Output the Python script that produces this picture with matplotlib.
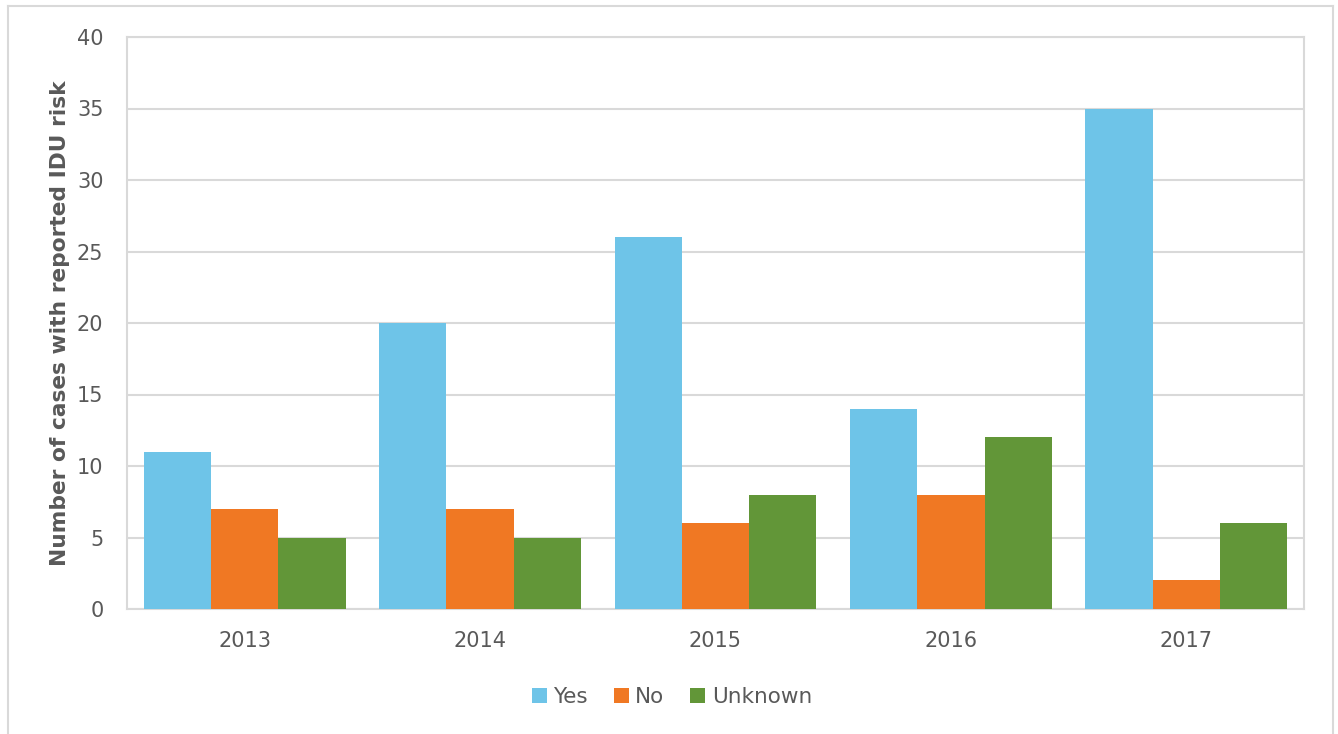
import matplotlib
matplotlib.use("Agg")
import matplotlib.pyplot as plt
import numpy as np
from matplotlib.lines import Line2D

years = ["2013", "2014", "2015", "2016", "2017"]
yes = [11, 20, 26, 14, 35]
no = [7, 7, 6, 8, 2]
unknown = [5, 5, 8, 12, 6]
series_names = ["Yes", "No", "Unknown"]
colors = ["#6EC4E8", "#F07823", "#629638"]

W, H = 1338, 734
fig = plt.figure(figsize=(W/100, H/100), dpi=100)
plt.rcParams['font.family'] = ['DejaVu Sans']

# outer frame
fc = "#D9D9D9"
fig.add_artist(Line2D([8/W, 8/W], [0, 1-6/H], color=fc, lw=1.5))
fig.add_artist(Line2D([8/W, 1333/W], [1-6/H, 1-6/H], color=fc, lw=1.5))
fig.add_artist(Line2D([1333/W, 1333/W], [0, 1-6/H], color=fc, lw=1.5))

ax = fig.add_axes([127/W, 1-609/H, (1304-127)/W, (609-37)/H])
x = np.arange(len(years))
bw = 1/3.5
for i, (vals, name, c) in enumerate(zip([yes, no, unknown], series_names, colors)):
    ax.bar(x + (i-1)*bw, vals, width=bw, color=c, label=name, zorder=3)

ax.set_xlim(-0.5, len(years)-0.5)
ax.set_ylim(0, 40)
ax.set_yticks(range(0, 41, 5))
ax.set_xticks(x)
ax.set_xticklabels(years)
ax.yaxis.grid(True, color="#D9D9D9", lw=1.5, zorder=0)
for s in ax.spines.values():
    s.set_color("#D9D9D9")
    s.set_linewidth(1.5)
ax.tick_params(length=0, labelsize=15, colors="#595959")
ax.tick_params(axis='y', pad=17)
ax.tick_params(axis='x', pad=16)
ax.set_ylabel("Number of cases with reported IDU risk", fontsize=15.7,
              fontweight='bold', color="#595959")
ax.yaxis.set_label_coords(-57/(1304-127), 0.5)

leg = fig.legend(loc='center', bbox_to_anchor=(672/W, 1-697/H), ncol=3,
                 frameon=False, fontsize=15.5, handlelength=0.7, handleheight=0.7,
                 handletextpad=0.3, columnspacing=1.2, labelcolor="#595959")

fig.savefig("out.png", dpi=100)
